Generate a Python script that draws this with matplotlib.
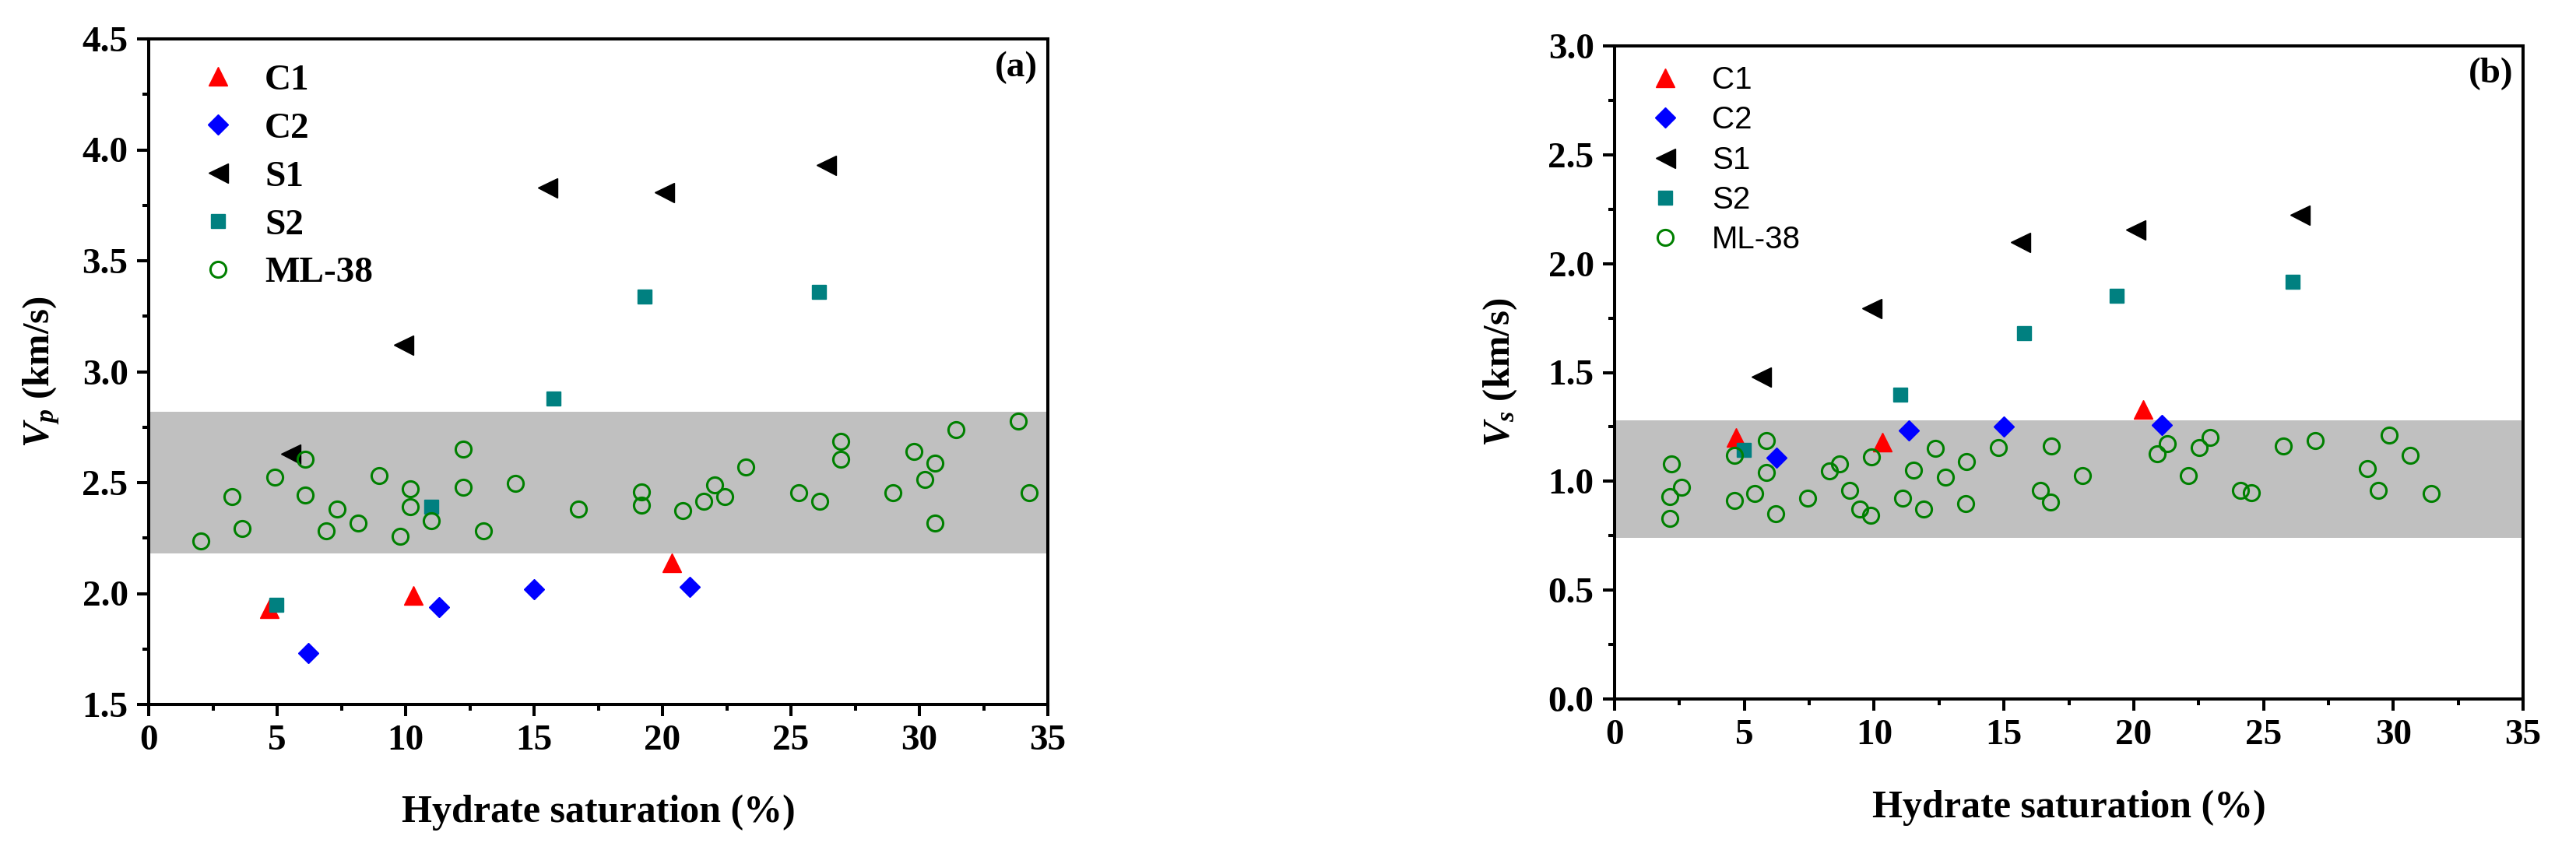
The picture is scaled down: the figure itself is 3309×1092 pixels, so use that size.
import matplotlib
matplotlib.use('Agg')
import matplotlib.pyplot as plt
from matplotlib.ticker import MultipleLocator, FormatStrFormatter

plt.rcParams['font.family'] = ['Liberation Serif', 'DejaVu Serif']
plt.rcParams['mathtext.fontset'] = 'custom'
plt.rcParams['mathtext.it'] = 'Liberation Serif:italic:bold'
plt.rcParams['mathtext.rm'] = 'Liberation Serif:bold'
plt.rcParams['mathtext.bf'] = 'Liberation Serif:bold'

# ---------------- data: panel (a) Vp ----------------
c1_sh_a = [4.7, 10.3, 20.35]
c1_vp = [1.93, 1.99, 2.14]
c2_sh_a = [6.2, 11.3, 15.0, 21.05]
c2_vp = [1.73, 1.94, 2.02, 2.03]
s1_sh_a = [5.5, 9.9, 15.5, 20.05, 26.35]
s1_vp = [2.63, 3.12, 3.83, 3.81, 3.93]
s2_sh_a = [4.97, 11.0, 15.76, 19.31, 26.09]
s2_vp = [1.95, 2.39, 2.88, 3.34, 3.36]
ml_sh_a = [2.03, 3.25, 3.65, 4.90, 6.10, 6.10, 6.92, 7.32, 8.16, 8.97, 9.78, 10.19, 10.19,
           11.01, 12.23, 12.23, 13.04, 14.27, 16.73, 19.17, 19.17, 20.80, 21.62, 22.02,
           22.43, 23.25, 25.29, 26.12, 26.93, 26.93, 28.98, 29.78, 30.20, 30.60, 30.60,
           31.42, 33.86, 34.28]
ml_vp = [2.238, 2.436, 2.292, 2.523, 2.605, 2.444, 2.282, 2.381, 2.316, 2.532, 2.257, 2.471, 2.391,
         2.328, 2.651, 2.479, 2.282, 2.496, 2.381, 2.458, 2.397, 2.373, 2.415, 2.488,
         2.436, 2.569, 2.453, 2.415, 2.686, 2.605, 2.453, 2.640, 2.515, 2.587, 2.316,
         2.738, 2.776, 2.453]
band_vp = [2.18, 2.82]

# ---------------- data: panel (b) Vs ----------------
c1_sh_b = [4.69, 10.33, 20.36]
c1_vs = [1.20, 1.18, 1.33]
c2_sh_b = [6.24, 11.33, 15.0, 21.07]
c2_vs = [1.107, 1.235, 1.253, 1.257]
s1_sh_b = [5.64, 9.91, 15.63, 20.07, 26.39]
s1_vs = [1.479, 1.796, 2.098, 2.155, 2.225]
s2_sh_b = [4.98, 11.02, 15.77, 19.35, 26.13]
s2_vs = [1.146, 1.397, 1.679, 1.851, 1.918]
ml_sh_b = [2.19, 2.58, 2.14, 2.14, 4.61, 4.61, 5.85, 5.85, 5.41, 6.21, 7.44, 8.28, 8.68, 9.07,
           9.46, 9.87, 9.91, 11.10, 11.52, 11.91, 12.36, 12.75, 13.56, 13.54, 14.79, 16.83,
           16.41, 16.80, 18.02, 20.89, 21.30, 22.11, 22.52, 22.93, 24.11, 24.53, 25.77,
           26.99, 29.01, 29.41, 29.85, 30.66, 31.45]
ml_vs = [1.080, 0.972, 0.931, 0.831, 1.120, 0.912, 1.186, 1.039, 0.945, 0.850, 0.924, 1.047, 1.080, 0.957,
         0.871, 0.843, 1.113, 0.924, 1.053, 0.871, 1.153, 1.018, 1.092, 0.896, 1.154, 1.161,
         0.957, 0.904, 1.025, 1.127, 1.173, 1.025, 1.154, 1.200, 0.957, 0.946, 1.161,
         1.187, 1.058, 0.957, 1.213, 1.120, 0.945]
band_vs = [0.74, 1.28]

labels = ['C1', 'C2', 'S1', 'S2', 'ML-38']

fig = plt.figure(figsize=(33.09, 10.92), dpi=100)
axa = fig.add_axes([191/3309, 1-905/1092, (1346-191)/3309, (905-50)/1092])
axb = fig.add_axes([2074/3309, 1-898/1092, (3241-2074)/3309, (898-59)/1092])

def draw(ax, series, band, ylim, ymaj, ylabel, tag, legprop, leg_anchor, hl, htp, ls):
    ax.axhspan(band[0], band[1], color='#c0c0c0', lw=0, zorder=0)
    styles = [dict(marker='^', color='#ff0000', ms=17, mec='#ff0000'),
              dict(marker='D', color='#0000ff', ms=13.5, mec='#0000ff'),
              dict(marker='<', color='#000000', ms=18, mec='#000000'),
              dict(marker='s', color='#008080', ms=13.5, mec='#008080'),
              dict(marker='o', color='#008000', ms=14.5, mfc='none', mec='#008000', mew=2.2)]
    for (xs, ys), st, lab in zip(series, styles, labels):
        ax.plot(xs, ys, linestyle='none', label=lab, zorder=3, **st)
    ax.set_xlim(0, 35)
    ax.set_ylim(*ylim)
    ax.xaxis.set_major_locator(MultipleLocator(5))
    ax.xaxis.set_minor_locator(MultipleLocator(2.5))
    ax.yaxis.set_major_locator(MultipleLocator(ymaj))
    ax.yaxis.set_minor_locator(MultipleLocator(ymaj/2))
    ax.yaxis.set_major_formatter(FormatStrFormatter('%.1f'))
    ax.tick_params(which='both', direction='out', top=False, right=False, width=2.9)
    ax.tick_params(which='major', length=11, labelsize=34, pad=8)
    ax.tick_params(which='minor', length=6)
    for lab in ax.get_xticklabels() + ax.get_yticklabels():
        lab.set_fontweight('bold')
    for sp in ax.spines.values():
        sp.set_linewidth(2.9)
    ax.set_xlabel('Hydrate saturation (%)', fontsize=36, fontweight='bold')
    ax.set_ylabel(ylabel, fontsize=35, fontweight='bold')
    ax.xaxis.set_label_coords(0.5, -0.135)
    ax.yaxis.set_label_coords(-0.097, 0.5)
    ax.text(0.965, 0.957, tag, transform=ax.transAxes, ha='center', va='center',
            fontsize=34, fontweight='bold')
    ax.legend(loc='upper left', bbox_to_anchor=leg_anchor, frameon=False, prop=legprop,
              numpoints=1, borderpad=0, borderaxespad=0, handlelength=hl,
              handletextpad=htp, labelspacing=ls)

draw(axa, [(c1_sh_a, c1_vp), (c2_sh_a, c2_vp), (s1_sh_a, s1_vp), (s2_sh_a, s2_vp), (ml_sh_a, ml_vp)],
     band_vp, (1.5, 4.5), 0.5, r'$V_p$ (km/s)', '(a)',
     dict(family='Liberation Serif', weight='bold', size=34), (0.0566, 0.963), 1.0, 0.77, 0.40)
draw(axb, [(c1_sh_b, c1_vs), (c2_sh_b, c2_vs), (s1_sh_b, s1_vs), (s2_sh_b, s2_vs), (ml_sh_b, ml_vs)],
     band_vs, (0.0, 3.0), 0.5, r'$V_s$ (km/s)', '(b)',
     dict(family='Liberation Sans', weight='normal', size=29), (0.0385, 0.970), 1.0, 0.99, 0.33)
axb.yaxis.set_label_coords(-0.105, 0.5)
axb.xaxis.set_label_coords(0.5, -0.139)

fig.savefig('out.png', dpi=100)
